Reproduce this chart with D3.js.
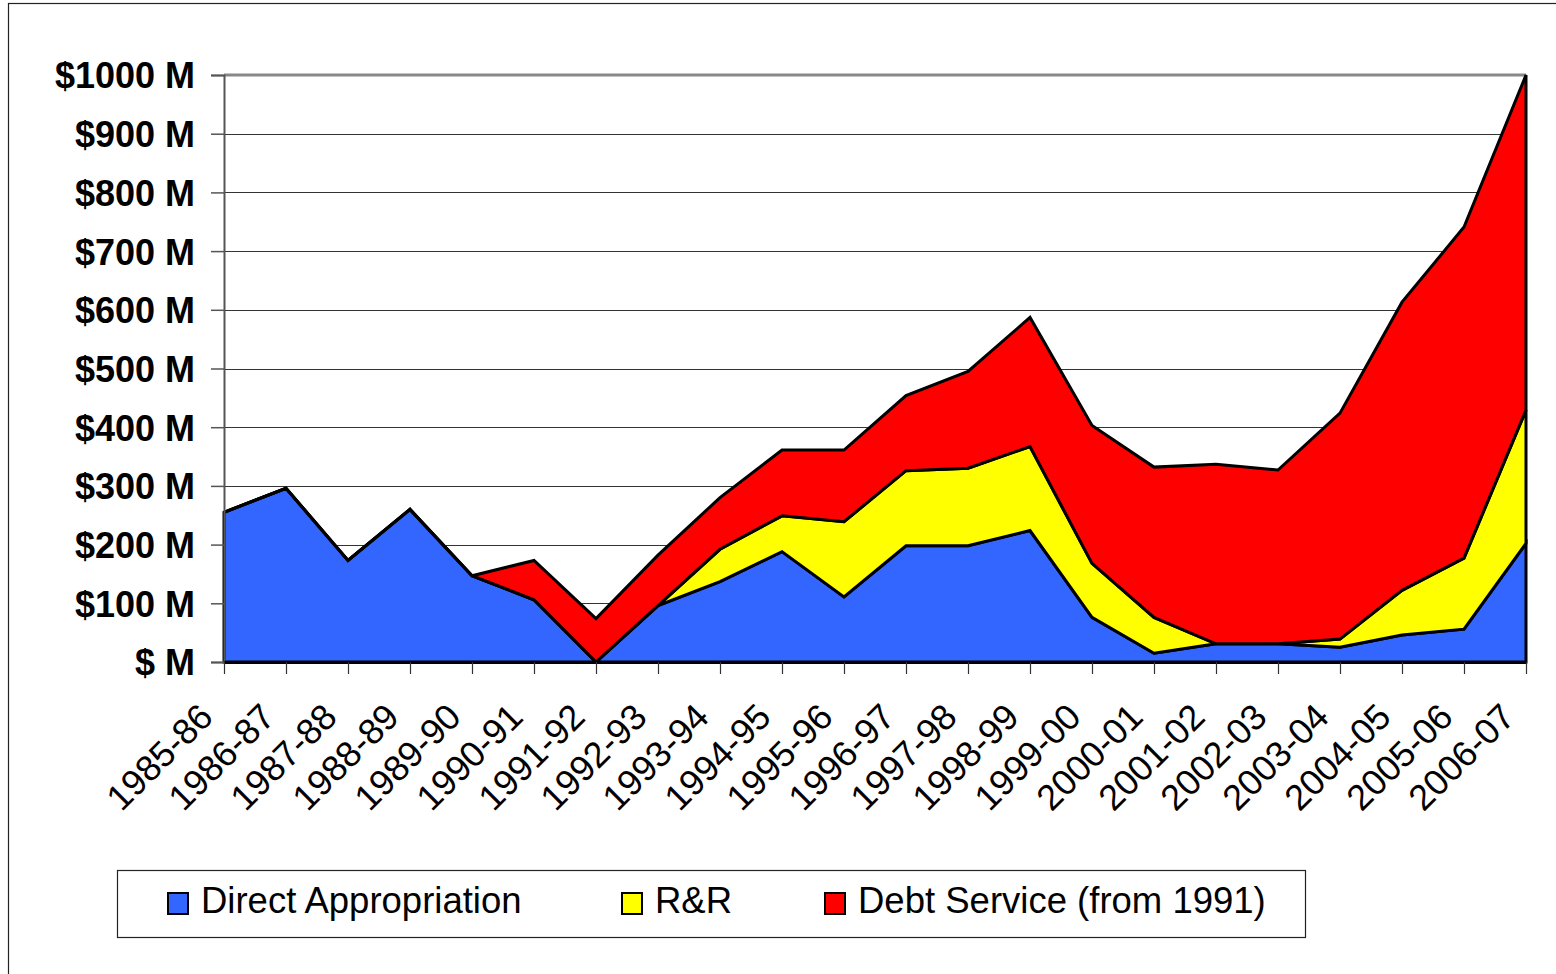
<!DOCTYPE html>
<html>
<head>
<meta charset="utf-8">
<script src="https://d3js.org/d3.v7.min.js"></script>
<style>
  body { margin: 0; background: #fff; }
  svg { display: block; font-family: "Liberation Sans", Arial, sans-serif; }
</style>
</head>
<body>
<div id="chart"></div>
<script>
// fiscal years along the x axis
var years = ["1985-86", "1986-87", "1987-88", "1988-89", "1989-90", "1990-91", "1991-92",
  "1992-93", "1993-94", "1994-95", "1995-96", "1996-97", "1997-98", "1998-99", "1999-00",
  "2000-01", "2001-02", "2002-03", "2003-04", "2004-05", "2005-06", "2006-07"];

// $ millions
var directAppropriation = [255, 296, 173, 260, 147, 106, 0, 96, 137, 188, 111, 198, 198, 224, 76, 15, 31, 31, 25, 46, 56, 202];
var rAndR = [0, 0, 0, 0, 0, 0, 0, 0, 55, 61, 128, 128, 132, 143, 92, 61, 0, 0, 14, 76, 121, 227];
var debtService = [0, 0, 0, 0, 0, 67, 74, 86, 88, 112, 122, 128, 165, 220, 235, 256, 306, 296, 385, 491, 564, 571];

var yTicks = [0, 100, 200, 300, 400, 500, 600, 700, 800, 900, 1000];

var seriesNames = ["Direct Appropriation", "R&R", "Debt Service (from 1991)"];
var seriesColors = ["#3366ff", "#ffff00", "#ff0000"];

var svgWidth = 1556, svgHeight = 974;
var margin = { top: 75, right: 30, bottom: 312, left: 224 };
var width = 1526 - margin.left;
var height = 662 - margin.top;

var svg = d3.select("#chart").append("svg")
  .attr("width", svgWidth)
  .attr("height", svgHeight);

// outer chart border (runs off the right and bottom edges)
svg.append("rect")
  .attr("x", 8.5).attr("y", 3.5)
  .attr("width", 1600).attr("height", 1000)
  .attr("fill", "none").attr("stroke", "#222").attr("stroke-width", 1.2);

var g = svg.append("g").attr("transform", `translate(${margin.left}, ${margin.top})`);

var x = d3.scalePoint().domain(years).range([0, width]);
var y = d3.scaleLinear().domain([0, 1000]).range([height, 0]);

// build rows for the stack
var rows = years.map(function(yr, i) {
  return { year: yr, direct: directAppropriation[i], rr: rAndR[i], debt: debtService[i] };
});
var stacked = d3.stack().keys(["direct", "rr", "debt"])(rows);

// gridlines
g.append("g")
  .selectAll("line")
  .data(yTicks.filter(function(d) { return d > 0 && d < 1000; }))
  .enter().append("line")
  .attr("x1", 0).attr("x2", width)
  .attr("y1", function(d) { return Math.round(y(d)) + 0.5; })
  .attr("y2", function(d) { return Math.round(y(d)) + 0.5; })
  .attr("stroke", "#333").attr("stroke-width", 1);

// top border of plot area
g.append("line")
  .attr("x1", 0).attr("x2", width)
  .attr("y1", y(1000)).attr("y2", y(1000))
  .attr("stroke", "#888").attr("stroke-width", 3);

// stacked areas
var area = d3.area()
  .x(function(d) { return x(d.data.year); })
  .y0(function(d) { return y(d[0]); })
  .y1(function(d) { return y(d[1]); });

g.selectAll(".layer")
  .data(stacked)
  .enter().append("path")
  .attr("class", "layer")
  .attr("d", area)
  .attr("fill", function(d, i) { return seriesColors[i]; })
  .attr("stroke", "#000")
  .attr("stroke-width", 3)
  .attr("stroke-linejoin", "miter");

// y axis
var leftAxis = d3.axisLeft(y)
  .tickValues(yTicks)
  .tickSize(13)
  .tickPadding(16)
  .tickFormat(function(d) { return "$" + (d === 0 ? " " : d) + " M"; });

var yAxis = g.append("g").call(leftAxis);
yAxis.select(".domain").attr("stroke", "#555").attr("stroke-width", 2);
yAxis.selectAll(".tick line").attr("stroke", "#555").attr("stroke-width", 1.5);
yAxis.selectAll(".tick text")
  .attr("fill", "#000")
  .style("font-size", "36px")
  .style("font-weight", "bold")
  .attr("dy", "0.36em");

// x axis
var bottomAxis = d3.axisBottom(x).tickSize(12).tickSizeOuter(0).tickFormat("");
var xAxis = g.append("g")
  .attr("transform", `translate(0, ${height})`)
  .call(bottomAxis);
xAxis.select(".domain").attr("stroke", "#000").attr("stroke-width", 3);
xAxis.selectAll(".tick line").attr("stroke", "#333").attr("stroke-width", 1.2);

// rotated category labels
g.append("g")
  .selectAll("text")
  .data(years)
  .enter().append("text")
  .attr("transform", function(d) { return `translate(${x(d) - 9}, ${height + 57}) rotate(-45)`; })
  .attr("text-anchor", "end")
  .style("font-size", "36px")
  .text(function(d) { return d; });

// legend
var legend = svg.append("g");
legend.append("rect")
  .attr("x", 117.5).attr("y", 870.5)
  .attr("width", 1188).attr("height", 67)
  .attr("fill", "#fff").attr("stroke", "#222").attr("stroke-width", 1.2);

var legendX = [168, 622, 825];
var items = legend.selectAll(".item")
  .data(seriesNames)
  .enter().append("g")
  .attr("class", "item")
  .attr("transform", function(d, i) { return `translate(${legendX[i]}, 893)`; });

items.append("rect")
  .attr("width", 20).attr("height", 21)
  .attr("fill", function(d, i) { return seriesColors[i]; })
  .attr("stroke", "#000").attr("stroke-width", 2);

items.append("text")
  .attr("x", 33).attr("y", 20)
  .style("font-size", "36.5px")
  .text(function(d) { return d; });
</script>
</body>
</html>
